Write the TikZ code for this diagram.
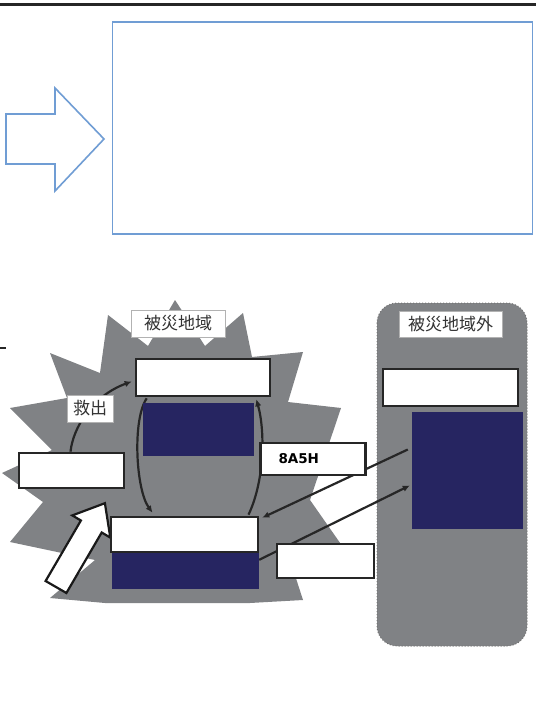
\documentclass[tikz,border=0pt]{standalone}
\usepackage{fontspec}
\newfontfamily\jp{Noto Sans CJK JP}
\newfontfamily\lbl{DejaVu Sans}
\usetikzlibrary{arrows.meta,calc}
\definecolor{navyc}{RGB}{38,37,97}
\definecolor{starg}{RGB}{128,130,133}
\definecolor{blueln}{RGB}{112,157,212}
\pgfdeclarelayer{bg}
\pgfdeclarelayer{lines}
\pgfsetlayers{bg,lines,main}
\tikzset{
  box/.style={draw=black!85, line width=2.6pt, fill=white, inner sep=0pt},
  navy/.style={fill=navyc, draw=none, inner sep=0pt},
  tag/.style={draw=gray!60, line width=0.8pt, fill=white, inner sep=0pt, text=black!80,
              font=\jp\fontsize{17}{17}\selectfont},
  conn/.style={line width=2.2pt, draw=black!85},
  tip/.style={-{Latex[length=7pt,width=6.5pt]}}
}
\begin{document}
\begin{tikzpicture}[x=1pt,y=-1pt]
\useasboundingbox (0,0) rectangle (536,701);
% top rule
\draw[line width=2.6pt, black!85] (0,4.5) -- (536,4.5);
% blue arrow and frame
\draw[blueln, line width=1.6pt, line join=miter]
  (6,114) -- (55,114) -- (55,88) -- (104,139) -- (55,191) -- (55,164) -- (6,164) -- cycle;
\node[draw=blueln, line width=1.6pt, minimum width=420pt, minimum height=212pt, inner sep=0pt]
  (frame) at (322.5,128) {};
% small tick
\draw[line width=1.4pt, black!85] (0,348) -- (6,348);

% boxes
\node[box, minimum width=134pt, minimum height=37pt] (topbox) at (203,377.5) {};
\node[navy, minimum width=111pt, minimum height=53pt] (navyT) at (198.5,429.5) {};
\node[box, minimum width=105pt, minimum height=35pt] (leftbox) at (71.5,470.5) {};
\node[navy, minimum width=147pt, minimum height=36pt] (navyB) at (185.5,571) {};
\node[box, minimum width=147pt, minimum height=35pt] (botbox) at (184.5,534.5) {};
\node[box, minimum width=135pt, minimum height=37pt] (rightbox) at (450.5,387.5) {};
\node[navy, minimum width=111pt, minimum height=117pt] (navyR) at (467.5,470.5) {};
\node[box, inner xsep=18pt, text width=69pt, minimum height=32pt, align=left,
      font=\lbl\bfseries\fontsize{13.5}{13.5}\selectfont] (h8) at (313,459) {8A5H};
\node[box, minimum width=97pt, minimum height=34pt] (lowbox) at (325.5,561) {};
% tags
\node[tag, minimum width=94pt, minimum height=27pt] (tagA) at (178,323.5) {被災地域};
\node[tag, minimum width=103pt, minimum height=26pt] (tagB) at (450.5,324) {被災地域外};
\node[tag, minimum width=46pt, minimum height=27pt] (tagC) at (90,408.5) {救出};

\begin{pgfonlayer}{bg}
\fill[white] (0,0) rectangle (536,701);
% star
\fill[starg] (175,300) -- (205,346) -- (243,313) -- (252,357) -- (303,352) -- (288,402)
  -- (341,408) -- (310,500) -- (352,560) -- (292,566) -- (303,600) -- (250,603)
  -- (105,603) -- (50,598) -- (95,560) -- (10,542) -- (43,502) -- (2,473)
  -- (52,450) -- (10,408) -- (67,398) -- (50,353) -- (100,373) -- (108,315)
  -- (148,346) -- cycle;
% outside region
\filldraw[fill=starg, draw=black!55, dotted, line width=1pt, rounded corners=20pt]
  (377,303) rectangle (527,646);
\end{pgfonlayer}

\begin{pgfonlayer}{lines}
\draw[conn,tip] ($(leftbox.north)+(-1,0)$) .. controls (73,428) and (92,396) .. ($(topbox.west)+(-3,4)$);
\draw[conn,tip] ($(topbox.south west)+(12,1)$) .. controls (132,420) and (136,490) .. ($(botbox.north)+(-32,-3)$);
\draw[conn,tip] ($(botbox.north)+(64,-1)$) .. controls (265,480) and (265,430) .. ($(topbox.south east)+(-15,2)$);
\draw[conn,tip] ($(navyR.west)+(-4,-21)$) -- ($(botbox.north east)+(3,2)$);
\draw[conn,tip] ($(navyB.north east)+(0,7)$) -- ($(navyR.west)+(-2,15)$);
% big white arrow
\filldraw[fill=white, draw=black!90, line width=2.2pt, line join=miter]
  (45.6,581) -- (80.9,520.5) -- (72.3,515.4) -- (104.9,503.2) -- (110.3,537.6)
  -- (101.7,532.5) -- (66.4,593) -- cycle;
\end{pgfonlayer}
\end{tikzpicture}
\end{document}
